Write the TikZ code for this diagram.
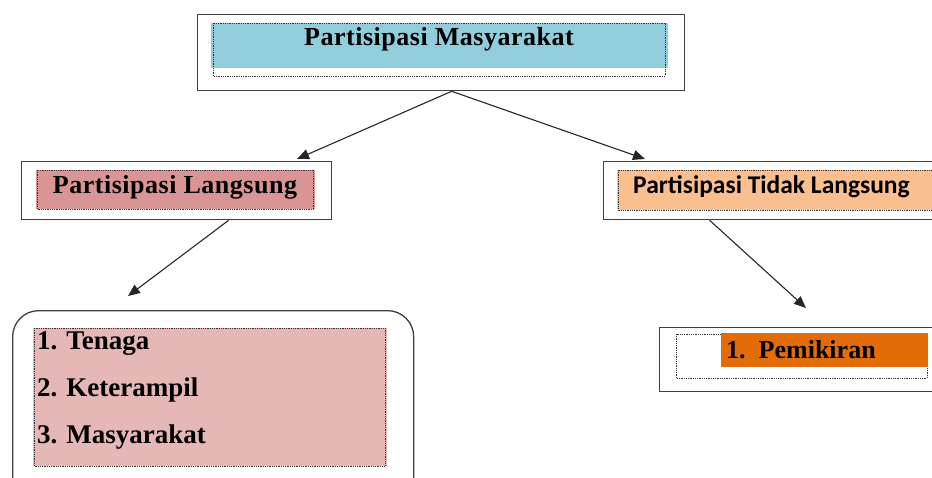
\documentclass[tikz,border=0pt]{standalone}
\usepackage{fontspec}
\setmainfont{Liberation Serif}
\newfontfamily\spaced[LetterSpace=2]{Liberation Serif}
\newfontfamily\calib{Carlito}
\usetikzlibrary{arrows.meta,calc}
\definecolor{cblue}{HTML}{92CDDC}
\definecolor{cred}{HTML}{D99594}
\definecolor{cpeach}{HTML}{FABF8F}
\definecolor{cpink}{HTML}{E5B8B7}
\definecolor{corange}{HTML}{E36C09}
\begin{document}
\begin{tikzpicture}[x=1pt,y=-1pt,
  outerbox/.style={draw=black!75,line width=1.3pt,fill=white},
  innerdot/.style={draw=black!80,densely dotted,line width=0.8pt},
  conn/.style={line width=1.1pt,draw=black!85,-{Triangle[length=12pt,width=10pt]}},
  btext/.style={font=\fontsize{26}{30}\selectfont\bfseries\spaced,inner sep=0pt},
  ltext/.style={font=\fontsize{27}{31}\selectfont\bfseries,inner sep=0pt,anchor=west}
]
\useasboundingbox (0,0) rectangle (932,477);
% top box
\node[outerbox,minimum width=487,minimum height=76,inner sep=0pt,anchor=north west] (top) at (197,14) {};
\fill[cblue] (211,23) rectangle (668,68);
\draw[innerdot] (213,23) rectangle (665,76);
\node[btext] (toptxt) at (439,39) {Partisipasi Masyarakat};
% left middle box
\node[outerbox,minimum width=310,minimum height=58,inner sep=0pt,anchor=north west] (left) at (21,161) {};
\fill[cred] (36,170) rectangle (315,209);
\draw[innerdot] (37,170) rectangle (313,209);
\node[btext] (lefttxt) at (175,187) {Partisipasi Langsung};
% right middle box
\node[outerbox,minimum width=340,minimum height=58,inner sep=0pt,anchor=north west] (right) at (603,161) {};
\fill[cpeach] (617,170) rectangle (940,210);
\draw[innerdot] (618,170) rectangle (940,210);
\node[font=\fontsize{25.5}{29}\selectfont\bfseries\calib,inner sep=0pt,anchor=west] (righttxt) at (633,187) {Partisipasi Tidak Langsung};
% bottom-left rounded box
\node[outerbox,rounded corners=26pt,minimum width=401,minimum height=200,inner sep=0pt,anchor=north west] (bl) at (12,310) {};
\fill[cpink] (33,328) rectangle (387,466);
\draw[innerdot] (34,328) rectangle (385,466);
\node[ltext] (l1) at (37,344) {1. Tenaga};
\node[ltext] (l2) at (37,390) {2. Keterampil};
\node[ltext] (l3) at (37,437) {3. Masyarakat};
% bottom-right box
\node[outerbox,minimum width=300,minimum height=64,inner sep=0pt,anchor=north west] (br) at (659,327) {};
\draw[innerdot] (676,334) rectangle (927,378);
\fill[corange] (721,333) rectangle (928,367);
\node[font=\fontsize{26}{30}\selectfont\bfseries,inner sep=0pt,anchor=west] (brtxt) at (726,350) {1.\ \ Pemikiran};
% connectors
\coordinate (e1) at (297,159);
\coordinate (e2) at (645,159);
\coordinate (e3) at (128,296);
\coordinate (e4) at (806,308);
\draw[conn] ($(top.south)+(10.5,0)$) -- (e1);
\draw[conn] ($(top.south)+(10.5,0)$) -- (e2);
\draw[conn] ($(left.south)+(52,0)$) -- (e3);
\draw[conn] ($(right.south)+(-64,0)$) -- (e4);
\end{tikzpicture}
\end{document}
